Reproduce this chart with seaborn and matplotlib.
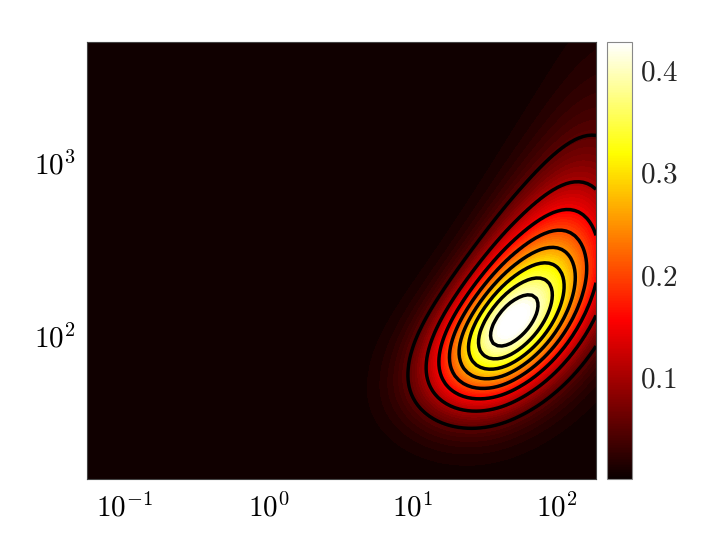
import numpy as np
import matplotlib
matplotlib.use('Agg')
import matplotlib.pyplot as plt
import seaborn as sns

# axis ranges
x_limits = [0.0545, 187]
y_limits = [14.9, 5000]
x_ticks = [0.1, 1, 10, 100]
y_ticks = [100, 1000]

# shape of the density surface, estimated from the contours (log10 units)
peak_value = 0.44
peak_centre = [1.69, 2.08]          # log10 x, log10 y
width_x = [0.3475, 0.412]           # left side, right side of the peak
ridge_slope = [0.527, 0.143]        # linear, quadratic bend of the ridge
spread_below = [0.27, 0.3, 0.0]     # width under the ridge: base, linear, quadratic growth
spread_above = [0.26, 0.32, 0.22]   # width over the ridge: base, linear, quadratic growth
upper_skew = [0.27, 0.3]            # tail above the ridge, growth to the right

# contour lines and colour range
contour_levels = [0.05, 0.10, 0.15, 0.20, 0.25, 0.30, 0.35, 0.40]
colour_max = 0.427
cbar_ticks = [0.1, 0.2, 0.3, 0.4]

sns.set_theme(style='white')
plt.rcParams['mathtext.fontset'] = 'cm'
plt.rcParams['font.family'] = ['DejaVu Serif']

#building the surface on a log grid
u = np.linspace(np.log10(x_limits[0]), np.log10(x_limits[1]), 120)
v = np.linspace(np.log10(y_limits[0]), np.log10(y_limits[1]), 120)
U, V = np.meshgrid(u, v)
du = U - peak_centre[0]
zu = du / np.where(du < 0, width_x[0], width_x[1])
ridge = peak_centre[1] + ridge_slope[0] * du + ridge_slope[1] * du ** 2
s_lo = spread_below[0] * np.exp(spread_below[1] * du + spread_below[2] * du ** 2)
s_hi = spread_above[0] * np.exp(spread_above[1] * du + spread_above[2] * du ** 2)
skew = np.clip(upper_skew[0] + upper_skew[1] * du, 0, None)
above = V > ridge
zv = (V - ridge) / np.where(above, s_hi, s_lo)
ev = np.where(above, zv ** 2 / (1 + skew * np.abs(zv)), zv ** 2)
Z = peak_value * np.exp(-0.5 * (zu ** 2 + ev))

cmap = plt.get_cmap(sns.color_palette('hot', as_cmap=True), 64)

fig = plt.figure(figsize=(7.2, 5.4), dpi=100)
ax = fig.add_axes([87 / 720, 61 / 540, 509 / 720, 437 / 540])
cax = fig.add_axes([607 / 720, 61 / 540, 25 / 720, 437 / 540])

ax.contourf(10 ** U, 10 ** V, Z, levels=np.linspace(0, colour_max, 65), cmap=cmap, extend='both')
ax.contour(10 ** U, 10 ** V, Z, levels=contour_levels, colors='black', linewidths=2.5)
ax.set_xscale('log')
ax.set_yscale('log')
ax.set_xlim(x_limits)
ax.set_ylim(y_limits)
ax.xaxis.set_minor_locator(matplotlib.ticker.NullLocator())
ax.yaxis.set_minor_locator(matplotlib.ticker.NullLocator())
ax.set_xticks(x_ticks)
ax.set_xticklabels([f'$10^{{{int(np.log10(t))}}}$' for t in x_ticks])
ax.set_yticks(y_ticks)
ax.set_yticklabels([f'$10^{{{int(np.log10(t))}}}$' for t in y_ticks])
ax.tick_params(length=0, labelsize=21, colors='black')
ax.tick_params(axis='x', pad=10)
ax.tick_params(axis='y', pad=8)
for sp in ax.spines.values():
    sp.set_color('#444444')
    sp.set_linewidth(0.8)

#colorbar with the same 64 colours
sm = plt.cm.ScalarMappable(norm=plt.Normalize(0, colour_max), cmap=cmap)
cb = fig.colorbar(sm, cax=cax, ticks=cbar_ticks)
cb.ax.set_yticklabels([f'${t:.1f}$' for t in cbar_ticks])
cb.ax.tick_params(direction='in', length=4, width=0.8, color='#888888', labelsize=21, pad=6)
cb.outline.set_edgecolor('#888888')
cb.outline.set_linewidth(0.8)

plt.savefig('out.png', dpi=100)
